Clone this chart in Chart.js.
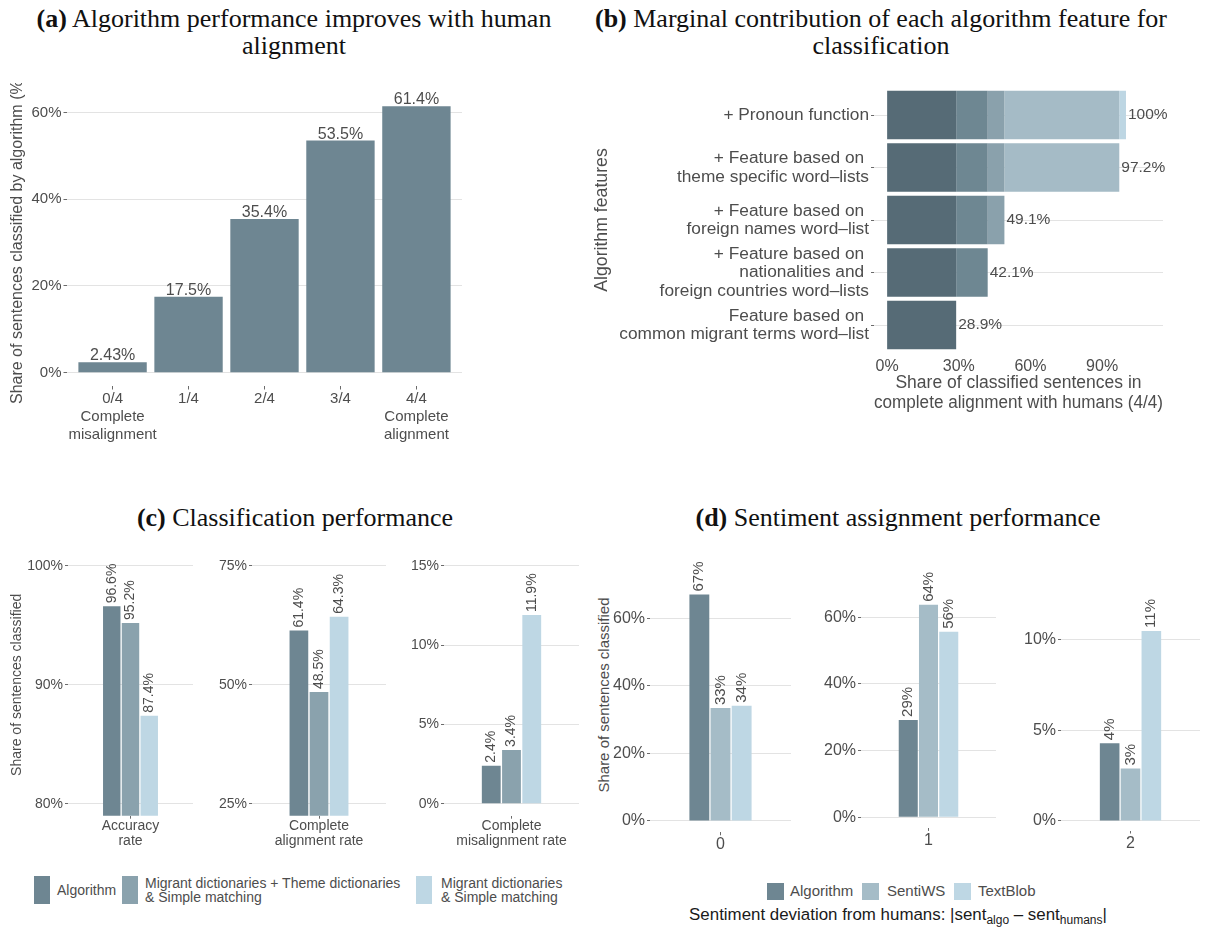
<!DOCTYPE html>
<html>
<head>
<meta charset="utf-8">
<script src="https://cdn.jsdelivr.net/npm/chart.js@4.4.1/dist/chart.umd.min.js"></script>
<style>
  body { margin: 0; background: #fff; width: 1205px; height: 931px; position: relative; overflow: hidden;
         font-family: "Liberation Sans", Arial, sans-serif; }
  canvas { position: absolute; display: block; }
  .ttl { position: absolute; font-family: "Liberation Serif", "Times New Roman", serif; font-size: 26px;
         color: #111; text-align: center; line-height: 27px; white-space: nowrap; }
  .ttl b { font-weight: bold; }
  .key { position: absolute; }
  .lbl { position: absolute; color: #4d4d4d; white-space: pre-line; }
  .xt { position: absolute; color: #1a1a1a; font-size: 16.9px; white-space: nowrap; }
  .xt sub { font-size: 12px; vertical-align: -4px; line-height: 0; }
  .ytl { position: absolute; color: #4d4d4d; white-space: nowrap; transform: translate(-50%, -50%) rotate(-90deg); }
</style>
</head>
<body>
<div class="ttl" style="left:-6px;top:4.5px;width:600px;"><b>(a)</b> Algorithm performance improves with human<br>alignment</div>
<div class="ttl" style="left:581px;top:4.5px;width:600px;"><b>(b)</b> Marginal contribution of each algorithm feature for<br>classification</div>
<div class="ttl" style="left:0;top:503.5px;width:590px;"><b>(c)</b> Classification performance</div>
<div class="ttl" style="left:598px;top:503.5px;width:600px;"><b>(d)</b> Sentiment assignment performance</div>
<div class="xt" style="left:598px;width:600px;top:905px;text-align:center;">Sentiment deviation from humans: |sent<sub>algo</sub> &#8211; sent<sub>humans</sub>|</div>
<div class="ytl" style="left:603px;top:694.5px;font-size:15px;">Share of sentences classified</div>

<script>
// ---------- (a) share of sentences by level of agreement ----------
const alignLevels = [['0/4', 'Complete', 'misalignment'], ['1/4'], ['2/4'], ['3/4'], ['4/4', 'Complete', 'alignment']];
const alignShare = [2.43, 17.5, 35.4, 53.5, 61.4];
const alignTicks = [0, 20, 40, 60];

// ---------- (b) cumulative feature contribution (top row = full algorithm) ----------
const featureLabels = [
  ['+ Pronoun function'],
  ['+ Feature based on ', 'theme specific word\u2013lists'],
  ['+ Feature based on ', 'foreign names word\u2013list'],
  ['+ Feature based on ', 'nationalities and ', 'foreign countries word\u2013lists'],
  ['Feature based on ', 'common migrant terms word\u2013list']
];
const featureTotals = [100, 97.2, 49.1, 42.1, 28.9];
const featureTicks = [0, 30, 60, 90];

// ---------- (c) classification performance ----------
const classMethods = ['Algorithm', 'Migrant dictionaries + Theme dictionaries\n& Simple matching', 'Migrant dictionaries\n& Simple matching'];
const accuracyRate = [96.6, 95.2, 87.4];
const alignmentRate = [61.4, 48.5, 64.3];
const misalignmentRate = [2.4, 3.4, 11.9];
const accuracyTicks = [80, 90, 100];
const alignmentTicks = [25, 50, 75];
const misalignmentTicks = [0, 5, 10, 15];

// ---------- (d) sentiment deviation from humans ----------
const sentMethods = ['Algorithm', 'SentiWS', 'TextBlob'];
const deviation0 = [67, 33.4, 34.1];
const deviation1 = [29.2, 63.7, 55.6];
const deviation2 = [4.3, 2.9, 10.5];
const deviationTicks01 = [0, 20, 40, 60];
const deviationTicks2 = [0, 5, 10];

// ---------- styling ----------
const TXT = '#4d4d4d';
const GRID = '#e3e3e3';
const TICK = '#6b6b6b';
const FAMILY = '"Liberation Sans", Arial, sans-serif';
const algoColor = '#6e8692';
const segColors = ['#566b76', '#6e8792', '#8aa1ac', '#a5bbc6', '#bdd6e3'];
const classColors = ['#6e8692', '#8aa2ad', '#bed7e4'];
const sentColors = ['#6e8692', '#a5bcc7', '#bed7e4'];

Chart.defaults.font.family = FAMILY;
Chart.defaults.color = TXT;

// value labels drawn next to the bars
Chart.register({
  id: 'valueLabels',
  afterDatasetsDraw(chart, args, o) {
    if (!o || !o.mode) return;
    const ctx = chart.ctx;
    ctx.save();
    ctx.fillStyle = o.color;
    ctx.font = o.font;
    if (o.mode === 'stackEnd') {
      const xs = chart.scales.x, ys = chart.scales.y;
      ctx.textAlign = 'left';
      ctx.textBaseline = 'middle';
      o.totals.forEach((v, i) => ctx.fillText(o.format(v), xs.getPixelForValue(v) + o.gap, ys.getPixelForValue(i)));
    } else {
      chart.data.datasets.forEach((ds, di) => {
        chart.getDatasetMeta(di).data.forEach((el, i) => {
          const raw = ds.data[i];
          const v = (raw !== null && typeof raw === 'object') ? raw.y : raw;
          const text = o.format(v);
          if (o.mode === 'above') {
            ctx.textAlign = 'center';
            ctx.textBaseline = 'alphabetic';
            ctx.fillText(text, el.x, el.y - o.gap);
          } else {
            ctx.save();
            ctx.translate(el.x, el.y - o.gap);
            ctx.rotate(-Math.PI / 2);
            ctx.textAlign = 'left';
            ctx.textBaseline = 'middle';
            ctx.fillText(text, 0, 0);
            ctx.restore();
          }
        });
      });
    }
    ctx.restore();
  }
});

function makeCanvas(box) {
  const c = document.createElement('canvas');
  c.width = box.w;
  c.height = box.h;
  c.style.left = box.x + 'px';
  c.style.top = box.y + 'px';
  document.body.appendChild(c);
  return c;
}
// box = canvas rectangle, area = plot rectangle (page coordinates)
function frame(box, area) {
  return {
    padding: { left: 0, top: area.t - box.y, right: box.x + box.w - area.r, bottom: 0 },
    yWidth: area.l - box.x,
    xHeight: box.y + box.h - area.b
  };
}
const noPad = s => { s.paddingTop = 0; s.paddingBottom = 0; s.paddingLeft = 0; s.paddingRight = 0; };
const fitY = w => s => { s.width = w; noPad(s); };
const fitX = h => s => { s.height = h; noPad(s); };
const fixedTicks = vals => s => { s.ticks = vals.map(v => ({ value: v })); };
const pct = v => v + '%';
const base = { responsive: false, animation: false, events: [] };

// ================= (a) =================
(function () {
  const box = { x: 0, y: 83, w: 480, h: 363 };
  const f = frame(box, { l: 67, t: 93, r: 462, b: 386 });
  const top = Math.max(...alignShare);
  new Chart(makeCanvas(box), {
    type: 'bar',
    data: {
      datasets: [{
        data: alignShare.map((v, i) => ({ x: i, y: v })),
        backgroundColor: algoColor,
        barPercentage: 0.9,
        categoryPercentage: 1
      }]
    },
    options: {
      ...base,
      layout: { padding: f.padding },
      plugins: {
        legend: { display: false }, tooltip: { enabled: false },
        valueLabels: { mode: 'above', gap: 2, color: TXT, font: '16px ' + FAMILY, format: v => v.toPrecision(3) + '%' }
      },
      scales: {
        x: {
          type: 'linear', min: -0.6, max: 4.6, offset: false,
          afterBuildTicks: fixedTicks(alignLevels.map((_, i) => i)),
          afterFit: fitX(f.xHeight),
          border: { display: false },
          grid: { offset: false, drawOnChartArea: false, drawTicks: true, tickLength: 3.5, tickColor: TICK },
          ticks: { callback: v => alignLevels[v], autoSkip: false, maxRotation: 0, padding: 0, color: TXT,
                   font: { size: 15, lineHeight: 1.2 } }
        },
        y: {
          min: -0.05 * top, max: 1.05 * top,
          afterBuildTicks: fixedTicks(alignTicks),
          afterFit: fitY(f.yWidth),
          border: { display: false },
          grid: { color: GRID, tickColor: TICK, tickLength: 3.5 },
          ticks: { callback: pct, padding: 2, color: TXT, font: { size: 15 } },
          title: { display: true, text: 'Share of sentences classified by algorithm (%)', color: TXT,
                   font: { size: 16 }, padding: { top: 8.4, bottom: 0 } }
        }
      }
    }
  });
})();

// ================= (b) =================
(function () {
  const box = { x: 580, y: 80, w: 625, h: 340 };
  const f = frame(box, { l: 874, t: 83.5, r: 1163, b: 356.5 });
  const n = featureTotals.length;
  // each row adds one feature on top of the rows below it
  const datasets = featureTotals.map((_, k) => {
    const row = n - 1 - k;
    const inc = featureTotals[row] - (row + 1 < n ? featureTotals[row + 1] : 0);
    const data = [];
    for (let i = 0; i <= row; i++) data.push({ x: inc, y: i });
    return { data, backgroundColor: segColors[k], barPercentage: 0.92, categoryPercentage: 1 };
  });
  new Chart(makeCanvas(box), {
    type: 'bar',
    data: { datasets },
    options: {
      ...base,
      indexAxis: 'y',
      layout: { padding: f.padding },
      plugins: {
        legend: { display: false }, tooltip: { enabled: false },
        valueLabels: { mode: 'stackEnd', totals: featureTotals, gap: 2, color: TXT, font: '15.5px ' + FAMILY,
                       format: v => v.toPrecision(3) + '%' }
      },
      scales: {
        x: {
          type: 'linear', stacked: true, min: -5.5, max: 115.5,
          afterBuildTicks: fixedTicks(featureTicks),
          afterFit: fitX(f.xHeight),
          border: { display: false },
          grid: { display: false, drawTicks: false },
          ticks: { callback: pct, padding: 0, color: TXT, font: { size: 16 }, maxRotation: 0 },
          title: { display: true, text: ['Share of classified sentences in', 'complete alignment with humans (4/4)'],
                   color: TXT, font: { size: 17.5, lineHeight: 1.15 }, padding: { top: 0, bottom: 7 } }
        },
        y: {
          type: 'linear', stacked: true, reverse: true, min: -0.6, max: 4.6, offset: false,
          afterBuildTicks: fixedTicks(featureLabels.map((_, i) => i)),
          afterFit: fitY(f.yWidth),
          border: { display: false },
          grid: { offset: false, color: GRID, tickColor: TICK, tickLength: 3 },
          ticks: { callback: v => featureLabels[v], autoSkip: false, padding: 2, color: TXT,
                   font: { size: 17.3, lineHeight: 1.07 } },
          title: { display: true, text: 'Algorithm features', color: TXT, font: { size: 17.7 },
                   padding: { top: 11.4, bottom: 0 } }
        }
      }
    }
  });
})();

// ================= facets for (c) and (d) =================
function facet(box, area, label, values, names, colors, range, ticks, opts) {
  const f = frame(box, area);
  return new Chart(makeCanvas(box), {
    type: 'bar',
    data: {
      labels: [label],
      datasets: values.map((v, i) => ({
        label: names[i], data: [v], backgroundColor: colors[i],
        categoryPercentage: opts.groupWidth, barPercentage: opts.barWidth
      }))
    },
    options: {
      ...base,
      layout: { padding: f.padding },
      plugins: {
        legend: { display: false }, tooltip: { enabled: false },
        valueLabels: { mode: 'vertical', gap: 3, color: TXT, font: opts.valueFont, format: opts.format }
      },
      scales: {
        x: {
          afterFit: fitX(f.xHeight),
          border: { display: false },
          grid: { offset: false, drawOnChartArea: false, drawTicks: true, tickLength: 3, tickColor: TICK },
          ticks: { padding: 0, color: TXT, font: { size: opts.xFont, lineHeight: opts.xLine }, maxRotation: 0 }
        },
        y: {
          min: range[0], max: range[1],
          afterBuildTicks: fixedTicks(ticks),
          afterFit: fitY(f.yWidth),
          border: { display: false },
          grid: { color: GRID, tickColor: TICK, tickLength: 3 },
          ticks: { callback: pct, padding: 2, color: TXT, font: { size: opts.yFont } },
          title: opts.yTitle ? { display: true, text: opts.yTitle, color: TXT, font: { size: opts.yTitleFont },
                                 padding: { top: opts.yTitlePad, bottom: 0 } } : { display: false }
        }
      }
    }
  });
}
const padded = (lo, hi) => [lo - 0.05 * (hi - lo), hi + 0.05 * (hi - lo)];

// (c) three rates
const cOpts = { groupWidth: 0.45, barWidth: 0.93, valueFont: '14px ' + FAMILY, format: v => v.toFixed(1) + '%',
                xFont: 14, xLine: 1.05, yFont: 14 };
facet({ x: 0, y: 540, w: 200, h: 320 }, { l: 68, t: 554, r: 193, b: 815.7 }, ['Accuracy', 'rate'],
      accuracyRate, classMethods, classColors, padded(80, 100), accuracyTicks,
      { ...cOpts, yTitle: 'Share of sentences classified', yTitleFont: 14, yTitlePad: 8.6 });
facet({ x: 200, y: 540, w: 200, h: 320 }, { l: 252, t: 554, r: 386, b: 815.7 }, ['Complete', 'alignment rate'],
      alignmentRate, classMethods, classColors, padded(25, 75), alignmentTicks, cOpts);
facet({ x: 400, y: 540, w: 190, h: 320 }, { l: 444, t: 554, r: 579, b: 815.7 }, ['Complete', 'misalignment rate'],
      misalignmentRate, classMethods, classColors, padded(0, 15), misalignmentTicks, cOpts);

// (d) sentiment deviation 0, 1, 2 (shared y title is placed in the page)
const dOpts = { groupWidth: 0.45, barWidth: 0.94, valueFont: '15px ' + FAMILY, format: v => Math.round(v) + '%',
                xFont: 16, xLine: 1.2, yFont: 16 };
const dRange = vals => padded(0, Math.max(...vals));
facet({ x: 590, y: 550, w: 205, h: 310 }, { l: 650, t: 583.2, r: 791, b: 832.3 }, '0',
      deviation0, sentMethods, sentColors, dRange(deviation0), deviationTicks01, dOpts);
facet({ x: 800, y: 550, w: 200, h: 310 }, { l: 861, t: 594.2, r: 996, b: 827.9 }, '1',
      deviation1, sentMethods, sentColors, dRange(deviation1), deviationTicks01, dOpts);
facet({ x: 1000, y: 550, w: 205, h: 310 }, { l: 1061, t: 621.4, r: 1200, b: 830.5 }, '2',
      deviation2, sentMethods, sentColors, dRange(deviation2), deviationTicks2, dOpts);

// ---------- legends ----------
function addKey(x, y, w, h, color) {
  const d = document.createElement('div');
  d.className = 'key';
  d.style.cssText = `left:${x}px;top:${y}px;width:${w}px;height:${h}px;background:${color};`;
  document.body.appendChild(d);
}
function addText(x, y, text, size, lh) {
  const d = document.createElement('div');
  d.className = 'lbl';
  d.style.cssText = `left:${x}px;top:${y}px;font-size:${size}px;line-height:${lh}px;`;
  d.textContent = text;
  document.body.appendChild(d);
}
const cKeyX = [34, 122, 416], cTextX = [57, 145, 441];
classMethods.forEach((m, i) => {
  addKey(cKeyX[i], 876, 16, 28, classColors[i]);
  const lines = m.split('\n').length;
  addText(cTextX[i], 890 - lines * 7, m, 14, 14);
});
const dKeyX = [767, 862, 954], dTextX = [790, 887, 978];
sentMethods.forEach((m, i) => {
  addKey(dKeyX[i], 883, 17, 17, sentColors[i]);
  addText(dTextX[i], 882, m, 15, 18);
});
</script>
</body>
</html>
